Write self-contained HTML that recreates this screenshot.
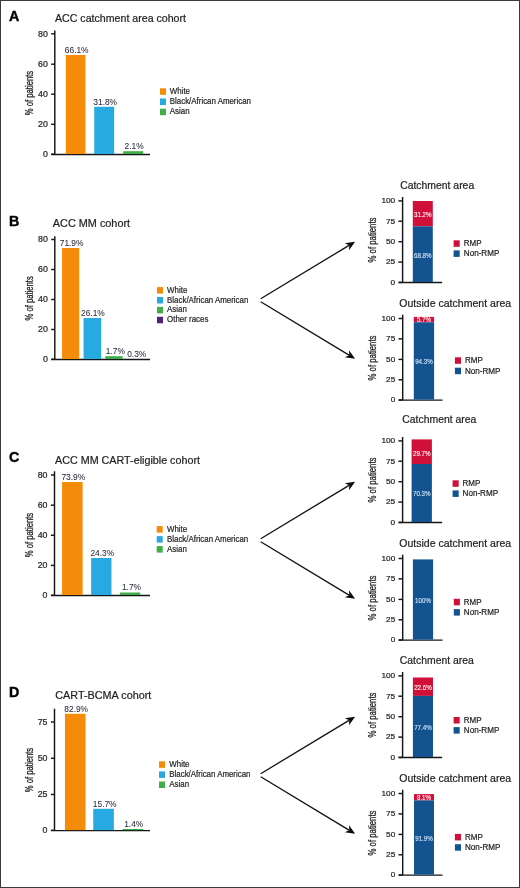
<!DOCTYPE html>
<html><head><meta charset="utf-8"><title>Figure</title>
<style>html,body{margin:0;padding:0;background:#fff}svg{display:block;will-change:transform;font-family:"Liberation Sans",sans-serif}</style>
</head><body>
<svg width="520" height="888" viewBox="0 0 520 888">
<rect x="0" y="0" width="520" height="888" fill="#fff"/>
<text transform="translate(8.9,21.2) scale(1.02,1)" font-size="14" font-weight="bold" fill="#000" stroke="#000" stroke-width="0.4">A</text>
<text x="55" y="22.2" font-size="10.4" text-anchor="start" fill="#231f20" stroke="#231f20" stroke-width="0.22" textLength="131" lengthAdjust="spacingAndGlyphs">ACC catchment area cohort</text>
<path d="M54.8,30.4 V154.5 M51.2,154.5 H150" stroke="#161616" stroke-width="1.45" fill="none"/>
<path d="M51.2,33.8 H54.8" stroke="#161616" stroke-width="1.45"/>
<text x="47.8" y="36.5" font-size="8.3" text-anchor="end" fill="#231f20" stroke="#231f20" stroke-width="0.22" textLength="9.8" lengthAdjust="spacingAndGlyphs">80</text>
<path d="M51.2,64.2 H54.8" stroke="#161616" stroke-width="1.45"/>
<text x="47.8" y="66.9" font-size="8.3" text-anchor="end" fill="#231f20" stroke="#231f20" stroke-width="0.22" textLength="9.8" lengthAdjust="spacingAndGlyphs">60</text>
<path d="M51.2,94.2 H54.8" stroke="#161616" stroke-width="1.45"/>
<text x="47.8" y="96.9" font-size="8.3" text-anchor="end" fill="#231f20" stroke="#231f20" stroke-width="0.22" textLength="9.8" lengthAdjust="spacingAndGlyphs">40</text>
<path d="M51.2,124.3 H54.8" stroke="#161616" stroke-width="1.45"/>
<text x="47.8" y="127.0" font-size="8.3" text-anchor="end" fill="#231f20" stroke="#231f20" stroke-width="0.22" textLength="9.8" lengthAdjust="spacingAndGlyphs">20</text>
<path d="M51.2,154.2 H54.8" stroke="#161616" stroke-width="1.45"/>
<text x="47.8" y="156.9" font-size="8.3" text-anchor="end" fill="#231f20" stroke="#231f20" stroke-width="0.22" textLength="4.9" lengthAdjust="spacingAndGlyphs">0</text>
<rect x="65.75" y="55" width="19.7" height="99.0" fill="#f48c0a"/>
<rect x="94.25" y="106.8" width="19.9" height="47.2" fill="#27a9e1"/>
<rect x="123.15" y="151.2" width="20.1" height="2.8" fill="#3fae49"/>
<text x="76.7" y="52.9" font-size="8.4" text-anchor="middle" fill="#2a2b3c" stroke="#2a2b3c" stroke-width="0.05">66.1%</text>
<text x="105.2" y="104.6" font-size="8.4" text-anchor="middle" fill="#2a2b3c" stroke="#2a2b3c" stroke-width="0.05">31.8%</text>
<text x="134.1" y="148.9" font-size="8.4" text-anchor="middle" fill="#2a2b3c" stroke="#2a2b3c" stroke-width="0.05">2.1%</text>
<rect x="160" y="88.3" width="6" height="6.5" fill="#f48c0a"/>
<text x="169.8" y="93.8" font-size="8.7" text-anchor="start" fill="#231f20" stroke="#231f20" stroke-width="0.22" textLength="20.2" lengthAdjust="spacingAndGlyphs">White</text>
<rect x="160" y="98.5" width="6" height="6.5" fill="#27a9e1"/>
<text x="169.8" y="104.0" font-size="8.7" text-anchor="start" fill="#231f20" stroke="#231f20" stroke-width="0.22" textLength="81.2" lengthAdjust="spacingAndGlyphs">Black/African American</text>
<rect x="160" y="108.7" width="6" height="6.5" fill="#3fae49"/>
<text x="169.8" y="114.2" font-size="8.7" text-anchor="start" fill="#231f20" stroke="#231f20" stroke-width="0.22" textLength="19.8" lengthAdjust="spacingAndGlyphs">Asian</text>
<text transform="translate(32.6,93) rotate(-90)" font-size="10" text-anchor="middle" fill="#231f20" stroke="#231f20" stroke-width="0.3" textLength="44.3" lengthAdjust="spacingAndGlyphs">% of patients</text>
<text transform="translate(8.9,225.7) scale(1.02,1)" font-size="14" font-weight="bold" fill="#000" stroke="#000" stroke-width="0.4">B</text>
<text x="52.8" y="227" font-size="10.4" text-anchor="start" fill="#231f20" stroke="#231f20" stroke-width="0.22" textLength="77.3" lengthAdjust="spacingAndGlyphs">ACC MM cohort</text>
<path d="M54.8,236.2 V359.5 M51.2,359.5 H150" stroke="#161616" stroke-width="1.45" fill="none"/>
<path d="M51.2,239.5 H54.8" stroke="#161616" stroke-width="1.45"/>
<text x="47.8" y="242.2" font-size="8.3" text-anchor="end" fill="#231f20" stroke="#231f20" stroke-width="0.22" textLength="9.8" lengthAdjust="spacingAndGlyphs">80</text>
<path d="M51.2,269.5 H54.8" stroke="#161616" stroke-width="1.45"/>
<text x="47.8" y="272.2" font-size="8.3" text-anchor="end" fill="#231f20" stroke="#231f20" stroke-width="0.22" textLength="9.8" lengthAdjust="spacingAndGlyphs">60</text>
<path d="M51.2,299.5 H54.8" stroke="#161616" stroke-width="1.45"/>
<text x="47.8" y="302.2" font-size="8.3" text-anchor="end" fill="#231f20" stroke="#231f20" stroke-width="0.22" textLength="9.8" lengthAdjust="spacingAndGlyphs">40</text>
<path d="M51.2,329.5 H54.8" stroke="#161616" stroke-width="1.45"/>
<text x="47.8" y="332.2" font-size="8.3" text-anchor="end" fill="#231f20" stroke="#231f20" stroke-width="0.22" textLength="9.8" lengthAdjust="spacingAndGlyphs">20</text>
<path d="M51.2,359.3 H54.8" stroke="#161616" stroke-width="1.45"/>
<text x="47.8" y="362.0" font-size="8.3" text-anchor="end" fill="#231f20" stroke="#231f20" stroke-width="0.22" textLength="4.9" lengthAdjust="spacingAndGlyphs">0</text>
<rect x="62.05" y="248" width="17.2" height="111.0" fill="#f48c0a"/>
<rect x="83.55" y="318" width="17.7" height="41.0" fill="#27a9e1"/>
<rect x="105.25" y="356.2" width="17.3" height="2.8" fill="#3fae49"/>
<text x="71.6" y="245.8" font-size="8.4" text-anchor="middle" fill="#2a2b3c" stroke="#2a2b3c" stroke-width="0.05">71.9%</text>
<text x="92.9" y="315.9" font-size="8.4" text-anchor="middle" fill="#2a2b3c" stroke="#2a2b3c" stroke-width="0.05">26.1%</text>
<text x="115.3" y="354.1" font-size="8.4" text-anchor="middle" fill="#2a2b3c" stroke="#2a2b3c" stroke-width="0.05">1.7%</text>
<text x="136.7" y="356.6" font-size="8.4" text-anchor="middle" fill="#2a2b3c" stroke="#2a2b3c" stroke-width="0.05">0.3%</text>
<rect x="157" y="287.1" width="6" height="6.5" fill="#f48c0a"/>
<text x="167.1" y="292.6" font-size="8.7" text-anchor="start" fill="#231f20" stroke="#231f20" stroke-width="0.22" textLength="20.2" lengthAdjust="spacingAndGlyphs">White</text>
<rect x="157" y="297.0" width="6" height="6.5" fill="#27a9e1"/>
<text x="167.1" y="302.5" font-size="8.7" text-anchor="start" fill="#231f20" stroke="#231f20" stroke-width="0.22" textLength="81.2" lengthAdjust="spacingAndGlyphs">Black/African American</text>
<rect x="157" y="306.9" width="6" height="6.5" fill="#3fae49"/>
<text x="167.1" y="312.4" font-size="8.7" text-anchor="start" fill="#231f20" stroke="#231f20" stroke-width="0.22" textLength="19.8" lengthAdjust="spacingAndGlyphs">Asian</text>
<rect x="157" y="316.8" width="6" height="6.5" fill="#4f2277"/>
<text x="167.1" y="322.3" font-size="8.7" text-anchor="start" fill="#231f20" stroke="#231f20" stroke-width="0.22" textLength="41.3" lengthAdjust="spacingAndGlyphs">Other races</text>
<text transform="translate(32.6,298.4) rotate(-90)" font-size="10" text-anchor="middle" fill="#231f20" stroke="#231f20" stroke-width="0.3" textLength="44.3" lengthAdjust="spacingAndGlyphs">% of patients</text>
<text transform="translate(8.9,462.2) scale(1.02,1)" font-size="14" font-weight="bold" fill="#000" stroke="#000" stroke-width="0.4">C</text>
<text x="55" y="464.1" font-size="10.4" text-anchor="start" fill="#231f20" stroke="#231f20" stroke-width="0.22" textLength="145" lengthAdjust="spacingAndGlyphs">ACC MM CART-eligible cohort</text>
<path d="M54.5,471.3 V595.5 M50.9,595.5 H150" stroke="#161616" stroke-width="1.45" fill="none"/>
<path d="M50.9,475 H54.5" stroke="#161616" stroke-width="1.45"/>
<text x="47.5" y="477.7" font-size="8.3" text-anchor="end" fill="#231f20" stroke="#231f20" stroke-width="0.22" textLength="9.8" lengthAdjust="spacingAndGlyphs">80</text>
<path d="M50.9,505.2 H54.5" stroke="#161616" stroke-width="1.45"/>
<text x="47.5" y="507.9" font-size="8.3" text-anchor="end" fill="#231f20" stroke="#231f20" stroke-width="0.22" textLength="9.8" lengthAdjust="spacingAndGlyphs">60</text>
<path d="M50.9,535.3 H54.5" stroke="#161616" stroke-width="1.45"/>
<text x="47.5" y="538.0" font-size="8.3" text-anchor="end" fill="#231f20" stroke="#231f20" stroke-width="0.22" textLength="9.8" lengthAdjust="spacingAndGlyphs">40</text>
<path d="M50.9,565.4 H54.5" stroke="#161616" stroke-width="1.45"/>
<text x="47.5" y="568.1" font-size="8.3" text-anchor="end" fill="#231f20" stroke="#231f20" stroke-width="0.22" textLength="9.8" lengthAdjust="spacingAndGlyphs">20</text>
<path d="M50.9,595.3 H54.5" stroke="#161616" stroke-width="1.45"/>
<text x="47.5" y="598.0" font-size="8.3" text-anchor="end" fill="#231f20" stroke="#231f20" stroke-width="0.22" textLength="4.9" lengthAdjust="spacingAndGlyphs">0</text>
<rect x="62.05" y="482" width="20.6" height="113.0" fill="#f48c0a"/>
<rect x="91.15" y="558" width="20.3" height="37.0" fill="#27a9e1"/>
<rect x="119.95" y="592.5" width="20.3" height="2.5" fill="#3fae49"/>
<text x="73.3" y="479.8" font-size="8.4" text-anchor="middle" fill="#2a2b3c" stroke="#2a2b3c" stroke-width="0.05">73.9%</text>
<text x="102.3" y="555.9" font-size="8.4" text-anchor="middle" fill="#2a2b3c" stroke="#2a2b3c" stroke-width="0.05">24.3%</text>
<text x="131.5" y="590.3" font-size="8.4" text-anchor="middle" fill="#2a2b3c" stroke="#2a2b3c" stroke-width="0.05">1.7%</text>
<rect x="156.7" y="526.1" width="6" height="6.5" fill="#f48c0a"/>
<text x="167" y="531.6" font-size="8.7" text-anchor="start" fill="#231f20" stroke="#231f20" stroke-width="0.22" textLength="20.2" lengthAdjust="spacingAndGlyphs">White</text>
<rect x="156.7" y="536.1" width="6" height="6.5" fill="#27a9e1"/>
<text x="167" y="541.6" font-size="8.7" text-anchor="start" fill="#231f20" stroke="#231f20" stroke-width="0.22" textLength="81.2" lengthAdjust="spacingAndGlyphs">Black/African American</text>
<rect x="156.7" y="546.1" width="6" height="6.5" fill="#3fae49"/>
<text x="167" y="551.6" font-size="8.7" text-anchor="start" fill="#231f20" stroke="#231f20" stroke-width="0.22" textLength="19.8" lengthAdjust="spacingAndGlyphs">Asian</text>
<text transform="translate(32.6,535) rotate(-90)" font-size="10" text-anchor="middle" fill="#231f20" stroke="#231f20" stroke-width="0.3" textLength="44.3" lengthAdjust="spacingAndGlyphs">% of patients</text>
<text transform="translate(8.9,697.4) scale(1.02,1)" font-size="14" font-weight="bold" fill="#000" stroke="#000" stroke-width="0.4">D</text>
<text x="55.3" y="698.6" font-size="10.4" text-anchor="start" fill="#231f20" stroke="#231f20" stroke-width="0.22" textLength="96" lengthAdjust="spacingAndGlyphs">CART-BCMA cohort</text>
<path d="M54.5,708.7 V830.6 M50.9,830.6 H150" stroke="#161616" stroke-width="1.45" fill="none"/>
<path d="M50.9,722 H54.5" stroke="#161616" stroke-width="1.45"/>
<text x="47.5" y="724.7" font-size="8.3" text-anchor="end" fill="#231f20" stroke="#231f20" stroke-width="0.22" textLength="9.8" lengthAdjust="spacingAndGlyphs">75</text>
<path d="M50.9,758.3 H54.5" stroke="#161616" stroke-width="1.45"/>
<text x="47.5" y="761.0" font-size="8.3" text-anchor="end" fill="#231f20" stroke="#231f20" stroke-width="0.22" textLength="9.8" lengthAdjust="spacingAndGlyphs">50</text>
<path d="M50.9,794.5 H54.5" stroke="#161616" stroke-width="1.45"/>
<text x="47.5" y="797.2" font-size="8.3" text-anchor="end" fill="#231f20" stroke="#231f20" stroke-width="0.22" textLength="9.8" lengthAdjust="spacingAndGlyphs">25</text>
<path d="M50.9,830.3 H54.5" stroke="#161616" stroke-width="1.45"/>
<text x="47.5" y="833.0" font-size="8.3" text-anchor="end" fill="#231f20" stroke="#231f20" stroke-width="0.22" textLength="4.9" lengthAdjust="spacingAndGlyphs">0</text>
<rect x="64.95" y="713.8" width="20.6" height="116.3" fill="#f48c0a"/>
<rect x="93.25" y="808.8" width="20.6" height="21.3" fill="#27a9e1"/>
<rect x="122.45" y="829" width="20.8" height="1.1" fill="#3fae49"/>
<text x="76.2" y="712.1" font-size="8.4" text-anchor="middle" fill="#2a2b3c" stroke="#2a2b3c" stroke-width="0.05">82.9%</text>
<text x="104.7" y="806.8" font-size="8.4" text-anchor="middle" fill="#2a2b3c" stroke="#2a2b3c" stroke-width="0.05">15.7%</text>
<text x="133.7" y="826.8" font-size="8.4" text-anchor="middle" fill="#2a2b3c" stroke="#2a2b3c" stroke-width="0.05">1.4%</text>
<rect x="159" y="761.3" width="6" height="6.5" fill="#f48c0a"/>
<text x="169.3" y="766.8" font-size="8.7" text-anchor="start" fill="#231f20" stroke="#231f20" stroke-width="0.22" textLength="20.2" lengthAdjust="spacingAndGlyphs">White</text>
<rect x="159" y="771.4" width="6" height="6.5" fill="#27a9e1"/>
<text x="169.3" y="776.9" font-size="8.7" text-anchor="start" fill="#231f20" stroke="#231f20" stroke-width="0.22" textLength="81.2" lengthAdjust="spacingAndGlyphs">Black/African American</text>
<rect x="159" y="781.5" width="6" height="6.5" fill="#3fae49"/>
<text x="169.3" y="787.0" font-size="8.7" text-anchor="start" fill="#231f20" stroke="#231f20" stroke-width="0.22" textLength="19.8" lengthAdjust="spacingAndGlyphs">Asian</text>
<text transform="translate(32.6,770) rotate(-90)" font-size="10" text-anchor="middle" fill="#231f20" stroke="#231f20" stroke-width="0.3" textLength="44.3" lengthAdjust="spacingAndGlyphs">% of patients</text>
<g transform="translate(0,0)">
<path d="M260.7,298.7 L349.02,245.37" stroke="#111" stroke-width="1.3" fill="none"/>
<path d="M355.1,241.7 L349.00,250.17 L349.28,245.21 L344.76,243.15 Z" fill="#0a0a0a"/>
<path d="M260.7,301.7 L349.02,355.13" stroke="#111" stroke-width="1.3" fill="none"/>
<path d="M355.1,358.8 L344.76,357.34 L349.28,355.28 L349.01,350.32 Z" fill="#0a0a0a"/>
</g>
<text x="400.2" y="188.5" font-size="10.3" text-anchor="start" fill="#231f20" stroke="#231f20" stroke-width="0.22" textLength="74" lengthAdjust="spacingAndGlyphs">Catchment area</text>
<path d="M402.6,196.9 V282.5 M398.7,282.5 H442.2" stroke="#161616" stroke-width="1.45" fill="none"/>
<path d="M398.4,200.9 H402.6" stroke="#161616" stroke-width="1.45"/>
<text x="395.2" y="203.2" font-size="8.0" text-anchor="end" fill="#231f20" stroke="#231f20" stroke-width="0.22" textLength="13.8" lengthAdjust="spacingAndGlyphs">100</text>
<path d="M398.4,221.2 H402.6" stroke="#161616" stroke-width="1.45"/>
<text x="395.2" y="223.5" font-size="8.0" text-anchor="end" fill="#231f20" stroke="#231f20" stroke-width="0.22" textLength="9.2" lengthAdjust="spacingAndGlyphs">75</text>
<path d="M398.4,241.7 H402.6" stroke="#161616" stroke-width="1.45"/>
<text x="395.2" y="244.0" font-size="8.0" text-anchor="end" fill="#231f20" stroke="#231f20" stroke-width="0.22" textLength="9.2" lengthAdjust="spacingAndGlyphs">50</text>
<path d="M398.4,262.1 H402.6" stroke="#161616" stroke-width="1.45"/>
<text x="395.2" y="264.4" font-size="8.0" text-anchor="end" fill="#231f20" stroke="#231f20" stroke-width="0.22" textLength="9.2" lengthAdjust="spacingAndGlyphs">25</text>
<path d="M398.4,282.4 H402.6" stroke="#161616" stroke-width="1.45"/>
<text x="395.2" y="284.7" font-size="8.0" text-anchor="end" fill="#231f20" stroke="#231f20" stroke-width="0.22" textLength="4.6" lengthAdjust="spacingAndGlyphs">0</text>
<rect x="412.8" y="201" width="20.0" height="25.3" fill="#d01038"/>
<rect x="412.8" y="226.3" width="20.0" height="55.7" fill="#135490"/>
<text x="422.8" y="216.95" font-size="7.4" text-anchor="middle" fill="#fff" stroke="#fff" stroke-width="0.12" textLength="17.6" lengthAdjust="spacingAndGlyphs">31.2%</text>
<text x="422.8" y="257.95" font-size="7.4" text-anchor="middle" fill="#d3e6f6" stroke="#d3e6f6" stroke-width="0.12" textLength="17.6" lengthAdjust="spacingAndGlyphs">68.8%</text>
<rect x="453.6" y="240.3" width="6.1" height="6.5" fill="#d01038"/>
<text x="463.8" y="246.3" font-size="8.8" text-anchor="start" fill="#231f20" stroke="#231f20" stroke-width="0.22" textLength="17.8" lengthAdjust="spacingAndGlyphs">RMP</text>
<rect x="453.6" y="250.4" width="6.1" height="6.5" fill="#135490"/>
<text x="463.8" y="256.4" font-size="8.8" text-anchor="start" fill="#231f20" stroke="#231f20" stroke-width="0.22" textLength="35.5" lengthAdjust="spacingAndGlyphs">Non-RMP</text>
<text x="399.2" y="306.8" font-size="10.3" text-anchor="start" fill="#231f20" stroke="#231f20" stroke-width="0.22" textLength="112" lengthAdjust="spacingAndGlyphs">Outside catchment area</text>
<path d="M402.7,314.7 V400.1 M398.7,400.1 H442.5" stroke="#161616" stroke-width="1.45" fill="none"/>
<path d="M398.5,318.5 H402.7" stroke="#161616" stroke-width="1.45"/>
<text x="395.3" y="320.8" font-size="8.0" text-anchor="end" fill="#231f20" stroke="#231f20" stroke-width="0.22" textLength="13.8" lengthAdjust="spacingAndGlyphs">100</text>
<path d="M398.5,338.9 H402.7" stroke="#161616" stroke-width="1.45"/>
<text x="395.3" y="341.2" font-size="8.0" text-anchor="end" fill="#231f20" stroke="#231f20" stroke-width="0.22" textLength="9.2" lengthAdjust="spacingAndGlyphs">75</text>
<path d="M398.5,359.4 H402.7" stroke="#161616" stroke-width="1.45"/>
<text x="395.3" y="361.7" font-size="8.0" text-anchor="end" fill="#231f20" stroke="#231f20" stroke-width="0.22" textLength="9.2" lengthAdjust="spacingAndGlyphs">50</text>
<path d="M398.5,379.8 H402.7" stroke="#161616" stroke-width="1.45"/>
<text x="395.3" y="382.1" font-size="8.0" text-anchor="end" fill="#231f20" stroke="#231f20" stroke-width="0.22" textLength="9.2" lengthAdjust="spacingAndGlyphs">25</text>
<path d="M398.5,400.0 H402.7" stroke="#161616" stroke-width="1.45"/>
<text x="395.3" y="402.3" font-size="8.0" text-anchor="end" fill="#231f20" stroke="#231f20" stroke-width="0.22" textLength="4.6" lengthAdjust="spacingAndGlyphs">0</text>
<rect x="413.8" y="316.9" width="20.3" height="5.4" fill="#d01038"/>
<rect x="413.8" y="322.3" width="20.3" height="77.3" fill="#135490"/>
<text x="423.95" y="322.35" font-size="7.4" text-anchor="middle" fill="#fff" stroke="#fff" stroke-width="0.12" textLength="14.1" lengthAdjust="spacingAndGlyphs">5.7%</text>
<text x="423.95" y="364.25" font-size="7.4" text-anchor="middle" fill="#d3e6f6" stroke="#d3e6f6" stroke-width="0.12" textLength="17.6" lengthAdjust="spacingAndGlyphs">94.3%</text>
<rect x="454.9" y="357.3" width="6.1" height="6.5" fill="#d01038"/>
<text x="465" y="363.3" font-size="8.8" text-anchor="start" fill="#231f20" stroke="#231f20" stroke-width="0.22" textLength="17.8" lengthAdjust="spacingAndGlyphs">RMP</text>
<rect x="454.9" y="367.7" width="6.1" height="6.5" fill="#135490"/>
<text x="465" y="373.7" font-size="8.8" text-anchor="start" fill="#231f20" stroke="#231f20" stroke-width="0.22" textLength="35.5" lengthAdjust="spacingAndGlyphs">Non-RMP</text>
<text transform="translate(375.5,240) rotate(-90)" font-size="10" text-anchor="middle" fill="#231f20" stroke="#231f20" stroke-width="0.3" textLength="45" lengthAdjust="spacingAndGlyphs">% of patients</text>
<text transform="translate(375.5,358) rotate(-90)" font-size="10" text-anchor="middle" fill="#231f20" stroke="#231f20" stroke-width="0.3" textLength="45" lengthAdjust="spacingAndGlyphs">% of patients</text>
<g transform="translate(0,240)">
<path d="M260.7,298.7 L349.02,245.37" stroke="#111" stroke-width="1.3" fill="none"/>
<path d="M355.1,241.7 L349.00,250.17 L349.28,245.21 L344.76,243.15 Z" fill="#0a0a0a"/>
<path d="M260.7,301.7 L349.02,355.13" stroke="#111" stroke-width="1.3" fill="none"/>
<path d="M355.1,358.8 L344.76,357.34 L349.28,355.28 L349.01,350.32 Z" fill="#0a0a0a"/>
</g>
<text x="402.3" y="422.9" font-size="10.3" text-anchor="start" fill="#231f20" stroke="#231f20" stroke-width="0.22" textLength="74" lengthAdjust="spacingAndGlyphs">Catchment area</text>
<path d="M402.6,436.9 V522.5 M398.7,522.5 H442.2" stroke="#161616" stroke-width="1.45" fill="none"/>
<path d="M398.4,440.9 H402.6" stroke="#161616" stroke-width="1.45"/>
<text x="395.2" y="443.2" font-size="8.0" text-anchor="end" fill="#231f20" stroke="#231f20" stroke-width="0.22" textLength="13.8" lengthAdjust="spacingAndGlyphs">100</text>
<path d="M398.4,461.2 H402.6" stroke="#161616" stroke-width="1.45"/>
<text x="395.2" y="463.5" font-size="8.0" text-anchor="end" fill="#231f20" stroke="#231f20" stroke-width="0.22" textLength="9.2" lengthAdjust="spacingAndGlyphs">75</text>
<path d="M398.4,481.7 H402.6" stroke="#161616" stroke-width="1.45"/>
<text x="395.2" y="484.0" font-size="8.0" text-anchor="end" fill="#231f20" stroke="#231f20" stroke-width="0.22" textLength="9.2" lengthAdjust="spacingAndGlyphs">50</text>
<path d="M398.4,502.1 H402.6" stroke="#161616" stroke-width="1.45"/>
<text x="395.2" y="504.4" font-size="8.0" text-anchor="end" fill="#231f20" stroke="#231f20" stroke-width="0.22" textLength="9.2" lengthAdjust="spacingAndGlyphs">25</text>
<path d="M398.4,522.4 H402.6" stroke="#161616" stroke-width="1.45"/>
<text x="395.2" y="524.7" font-size="8.0" text-anchor="end" fill="#231f20" stroke="#231f20" stroke-width="0.22" textLength="4.6" lengthAdjust="spacingAndGlyphs">0</text>
<rect x="411.6" y="439.4" width="20.3" height="24.6" fill="#d01038"/>
<rect x="411.6" y="464" width="20.3" height="58.0" fill="#135490"/>
<text x="421.75" y="455.75" font-size="7.4" text-anchor="middle" fill="#fff" stroke="#fff" stroke-width="0.12" textLength="17.6" lengthAdjust="spacingAndGlyphs">29.7%</text>
<text x="421.75" y="496.35" font-size="7.4" text-anchor="middle" fill="#d3e6f6" stroke="#d3e6f6" stroke-width="0.12" textLength="17.6" lengthAdjust="spacingAndGlyphs">70.3%</text>
<rect x="452.6" y="480.3" width="6.1" height="6.5" fill="#d01038"/>
<text x="462.6" y="486.3" font-size="8.8" text-anchor="start" fill="#231f20" stroke="#231f20" stroke-width="0.22" textLength="17.8" lengthAdjust="spacingAndGlyphs">RMP</text>
<rect x="452.6" y="490.4" width="6.1" height="6.5" fill="#135490"/>
<text x="462.6" y="496.4" font-size="8.8" text-anchor="start" fill="#231f20" stroke="#231f20" stroke-width="0.22" textLength="35.5" lengthAdjust="spacingAndGlyphs">Non-RMP</text>
<text x="399.2" y="546.8" font-size="10.3" text-anchor="start" fill="#231f20" stroke="#231f20" stroke-width="0.22" textLength="112" lengthAdjust="spacingAndGlyphs">Outside catchment area</text>
<path d="M402.7,554.7 V640.1 M398.7,640.1 H442.5" stroke="#161616" stroke-width="1.45" fill="none"/>
<path d="M398.5,558.5 H402.7" stroke="#161616" stroke-width="1.45"/>
<text x="395.3" y="560.8" font-size="8.0" text-anchor="end" fill="#231f20" stroke="#231f20" stroke-width="0.22" textLength="13.8" lengthAdjust="spacingAndGlyphs">100</text>
<path d="M398.5,578.9 H402.7" stroke="#161616" stroke-width="1.45"/>
<text x="395.3" y="581.2" font-size="8.0" text-anchor="end" fill="#231f20" stroke="#231f20" stroke-width="0.22" textLength="9.2" lengthAdjust="spacingAndGlyphs">75</text>
<path d="M398.5,599.4 H402.7" stroke="#161616" stroke-width="1.45"/>
<text x="395.3" y="601.7" font-size="8.0" text-anchor="end" fill="#231f20" stroke="#231f20" stroke-width="0.22" textLength="9.2" lengthAdjust="spacingAndGlyphs">50</text>
<path d="M398.5,619.8 H402.7" stroke="#161616" stroke-width="1.45"/>
<text x="395.3" y="622.1" font-size="8.0" text-anchor="end" fill="#231f20" stroke="#231f20" stroke-width="0.22" textLength="9.2" lengthAdjust="spacingAndGlyphs">25</text>
<path d="M398.5,640.0 H402.7" stroke="#161616" stroke-width="1.45"/>
<text x="395.3" y="642.3" font-size="8.0" text-anchor="end" fill="#231f20" stroke="#231f20" stroke-width="0.22" textLength="4.6" lengthAdjust="spacingAndGlyphs">0</text>
<rect x="412.9" y="559.4" width="20.2" height="80.2" fill="#135490"/>
<text x="423.0" y="602.75" font-size="7.4" text-anchor="middle" fill="#d3e6f6" stroke="#d3e6f6" stroke-width="0.12" textLength="15.85" lengthAdjust="spacingAndGlyphs">100%</text>
<rect x="453.8" y="598.8" width="6.1" height="6.5" fill="#d01038"/>
<text x="463.8" y="604.8" font-size="8.8" text-anchor="start" fill="#231f20" stroke="#231f20" stroke-width="0.22" textLength="17.8" lengthAdjust="spacingAndGlyphs">RMP</text>
<rect x="453.8" y="609.1" width="6.1" height="6.5" fill="#135490"/>
<text x="463.8" y="615.1" font-size="8.8" text-anchor="start" fill="#231f20" stroke="#231f20" stroke-width="0.22" textLength="35.5" lengthAdjust="spacingAndGlyphs">Non-RMP</text>
<text transform="translate(375.5,480) rotate(-90)" font-size="10" text-anchor="middle" fill="#231f20" stroke="#231f20" stroke-width="0.3" textLength="45" lengthAdjust="spacingAndGlyphs">% of patients</text>
<text transform="translate(375.5,598) rotate(-90)" font-size="10" text-anchor="middle" fill="#231f20" stroke="#231f20" stroke-width="0.3" textLength="45" lengthAdjust="spacingAndGlyphs">% of patients</text>
<g transform="translate(0,475)">
<path d="M260.7,298.7 L349.02,245.37" stroke="#111" stroke-width="1.3" fill="none"/>
<path d="M355.1,241.7 L349.00,250.17 L349.28,245.21 L344.76,243.15 Z" fill="#0a0a0a"/>
<path d="M260.7,301.7 L349.02,355.13" stroke="#111" stroke-width="1.3" fill="none"/>
<path d="M355.1,358.8 L344.76,357.34 L349.28,355.28 L349.01,350.32 Z" fill="#0a0a0a"/>
</g>
<text x="399.8" y="663.5" font-size="10.3" text-anchor="start" fill="#231f20" stroke="#231f20" stroke-width="0.22" textLength="74" lengthAdjust="spacingAndGlyphs">Catchment area</text>
<path d="M402.6,671.9 V757.5 M398.7,757.5 H442.2" stroke="#161616" stroke-width="1.45" fill="none"/>
<path d="M398.4,675.9 H402.6" stroke="#161616" stroke-width="1.45"/>
<text x="395.2" y="678.2" font-size="8.0" text-anchor="end" fill="#231f20" stroke="#231f20" stroke-width="0.22" textLength="13.8" lengthAdjust="spacingAndGlyphs">100</text>
<path d="M398.4,696.2 H402.6" stroke="#161616" stroke-width="1.45"/>
<text x="395.2" y="698.5" font-size="8.0" text-anchor="end" fill="#231f20" stroke="#231f20" stroke-width="0.22" textLength="9.2" lengthAdjust="spacingAndGlyphs">75</text>
<path d="M398.4,716.7 H402.6" stroke="#161616" stroke-width="1.45"/>
<text x="395.2" y="719.0" font-size="8.0" text-anchor="end" fill="#231f20" stroke="#231f20" stroke-width="0.22" textLength="9.2" lengthAdjust="spacingAndGlyphs">50</text>
<path d="M398.4,737.1 H402.6" stroke="#161616" stroke-width="1.45"/>
<text x="395.2" y="739.4" font-size="8.0" text-anchor="end" fill="#231f20" stroke="#231f20" stroke-width="0.22" textLength="9.2" lengthAdjust="spacingAndGlyphs">25</text>
<path d="M398.4,757.4 H402.6" stroke="#161616" stroke-width="1.45"/>
<text x="395.2" y="759.7" font-size="8.0" text-anchor="end" fill="#231f20" stroke="#231f20" stroke-width="0.22" textLength="4.6" lengthAdjust="spacingAndGlyphs">0</text>
<rect x="412.9" y="677.5" width="20.1" height="18.4" fill="#d01038"/>
<rect x="412.9" y="695.9" width="20.1" height="61.1" fill="#135490"/>
<text x="422.95" y="690.1" font-size="7.4" text-anchor="middle" fill="#fff" stroke="#fff" stroke-width="0.12" textLength="17.6" lengthAdjust="spacingAndGlyphs">22.6%</text>
<text x="422.95" y="729.85" font-size="7.4" text-anchor="middle" fill="#d3e6f6" stroke="#d3e6f6" stroke-width="0.12" textLength="17.6" lengthAdjust="spacingAndGlyphs">77.4%</text>
<rect x="453.6" y="717.0" width="6.1" height="6.5" fill="#d01038"/>
<text x="463.8" y="723.0" font-size="8.8" text-anchor="start" fill="#231f20" stroke="#231f20" stroke-width="0.22" textLength="17.8" lengthAdjust="spacingAndGlyphs">RMP</text>
<rect x="453.6" y="727.1" width="6.1" height="6.5" fill="#135490"/>
<text x="463.8" y="733.1" font-size="8.8" text-anchor="start" fill="#231f20" stroke="#231f20" stroke-width="0.22" textLength="35.5" lengthAdjust="spacingAndGlyphs">Non-RMP</text>
<text x="399.2" y="781.8" font-size="10.3" text-anchor="start" fill="#231f20" stroke="#231f20" stroke-width="0.22" textLength="112" lengthAdjust="spacingAndGlyphs">Outside catchment area</text>
<path d="M402.7,789.7 V875.1 M398.7,875.1 H442.5" stroke="#161616" stroke-width="1.45" fill="none"/>
<path d="M398.5,793.5 H402.7" stroke="#161616" stroke-width="1.45"/>
<text x="395.3" y="795.8" font-size="8.0" text-anchor="end" fill="#231f20" stroke="#231f20" stroke-width="0.22" textLength="13.8" lengthAdjust="spacingAndGlyphs">100</text>
<path d="M398.5,813.9 H402.7" stroke="#161616" stroke-width="1.45"/>
<text x="395.3" y="816.2" font-size="8.0" text-anchor="end" fill="#231f20" stroke="#231f20" stroke-width="0.22" textLength="9.2" lengthAdjust="spacingAndGlyphs">75</text>
<path d="M398.5,834.4 H402.7" stroke="#161616" stroke-width="1.45"/>
<text x="395.3" y="836.7" font-size="8.0" text-anchor="end" fill="#231f20" stroke="#231f20" stroke-width="0.22" textLength="9.2" lengthAdjust="spacingAndGlyphs">50</text>
<path d="M398.5,854.8 H402.7" stroke="#161616" stroke-width="1.45"/>
<text x="395.3" y="857.1" font-size="8.0" text-anchor="end" fill="#231f20" stroke="#231f20" stroke-width="0.22" textLength="9.2" lengthAdjust="spacingAndGlyphs">25</text>
<path d="M398.5,875.0 H402.7" stroke="#161616" stroke-width="1.45"/>
<text x="395.3" y="877.3" font-size="8.0" text-anchor="end" fill="#231f20" stroke="#231f20" stroke-width="0.22" textLength="4.6" lengthAdjust="spacingAndGlyphs">0</text>
<rect x="414" y="794.1" width="20" height="6.3" fill="#d01038"/>
<rect x="414" y="800.4" width="20" height="74.2" fill="#135490"/>
<text x="424.0" y="800.45" font-size="7.4" text-anchor="middle" fill="#fff" stroke="#fff" stroke-width="0.12" textLength="14.1" lengthAdjust="spacingAndGlyphs">8.1%</text>
<text x="424.0" y="841.35" font-size="7.4" text-anchor="middle" fill="#d3e6f6" stroke="#d3e6f6" stroke-width="0.12" textLength="17.6" lengthAdjust="spacingAndGlyphs">91.9%</text>
<rect x="454.9" y="833.9" width="6.1" height="6.5" fill="#d01038"/>
<text x="465" y="839.9" font-size="8.8" text-anchor="start" fill="#231f20" stroke="#231f20" stroke-width="0.22" textLength="17.8" lengthAdjust="spacingAndGlyphs">RMP</text>
<rect x="454.9" y="844.2" width="6.1" height="6.5" fill="#135490"/>
<text x="465" y="850.2" font-size="8.8" text-anchor="start" fill="#231f20" stroke="#231f20" stroke-width="0.22" textLength="35.5" lengthAdjust="spacingAndGlyphs">Non-RMP</text>
<text transform="translate(375.5,715) rotate(-90)" font-size="10" text-anchor="middle" fill="#231f20" stroke="#231f20" stroke-width="0.3" textLength="45" lengthAdjust="spacingAndGlyphs">% of patients</text>
<text transform="translate(375.5,833) rotate(-90)" font-size="10" text-anchor="middle" fill="#231f20" stroke="#231f20" stroke-width="0.3" textLength="45" lengthAdjust="spacingAndGlyphs">% of patients</text>
<rect x="0.5" y="0.5" width="519" height="887" fill="none" stroke="#3a3a3a" stroke-width="1"/>
</svg></body></html>
